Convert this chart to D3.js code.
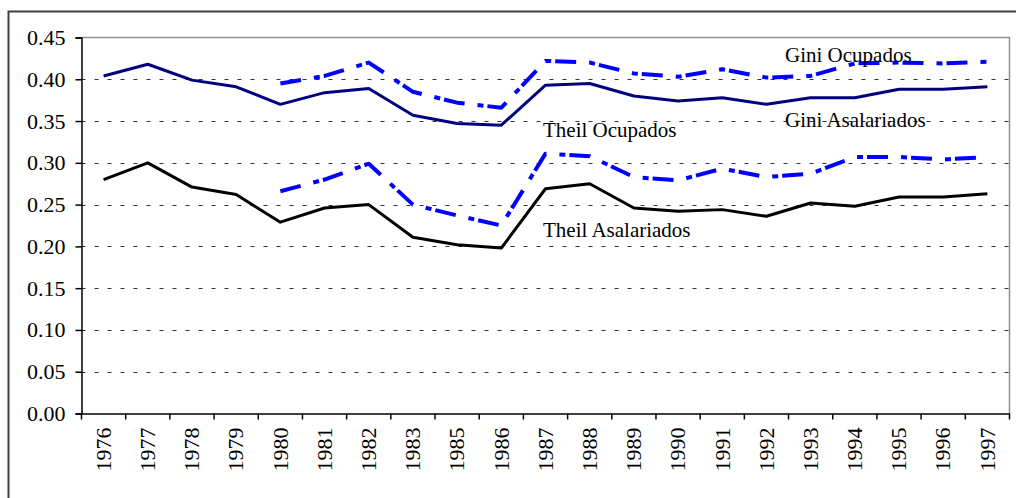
<!DOCTYPE html>
<html>
<head>
<meta charset="utf-8">
<script src="https://cdn.jsdelivr.net/npm/d3@7"></script>
<style>
html,body{margin:0;padding:0;background:#fff;}
svg{display:block;}
text{font-family:"Liberation Serif","Times New Roman",serif;}
</style>
</head>
<body>
<svg id="chart" width="1016" height="498"></svg>
<script>
const years = ["1976","1977","1978","1979","1980","1981","1982","1983","1985","1986","1987","1988","1989","1990","1991","1992","1993","1994","1995","1996","1997"];
const giniAsalariados = [0.404,0.418,0.399,0.391,0.370,0.384,0.389,0.357,0.347,0.345,0.393,0.395,0.380,0.374,0.378,0.370,0.378,0.378,0.388,0.388,0.391];
const theilAsalariados = [0.280,0.300,0.271,0.262,0.229,0.246,0.250,0.211,0.202,0.198,0.269,0.275,0.246,0.242,0.244,0.236,0.252,0.248,0.259,0.259,0.263];
const giniOcupados = [null,null,null,null,0.395,0.404,0.420,0.385,0.372,0.366,0.422,0.420,0.407,0.403,0.412,0.402,0.404,0.419,0.420,0.419,0.421];
const theilOcupados = [null,null,null,null,0.266,0.280,0.299,0.250,0.237,0.225,0.311,0.308,0.283,0.279,0.293,0.283,0.287,0.307,0.307,0.304,0.307];
const yTicks = [0,0.05,0.10,0.15,0.20,0.25,0.30,0.35,0.40,0.45];

const svg = d3.select("#chart");
const L = 81.5, R = 1009.5, T = 37.5, B = 413.5;

// outer frame
svg.append("rect").attr("x",8.5).attr("y",11.5).attr("width",1020).attr("height",500)
  .attr("fill","none").attr("stroke","#404040").attr("stroke-width",2);

const x = d3.scaleBand().domain(years).range([L,R]).padding(0);
const y = d3.scaleLinear().domain([0,0.45]).range([B,T]);

// plot-area border (top & right grey)
svg.append("path").attr("d",`M${L},${T}H${R}V${B}`).attr("fill","none").attr("stroke","#909090").attr("stroke-width",1.5);

// gridlines
svg.append("g").selectAll("line").data(yTicks.filter(d=>d>0 && d<0.45)).join("line")
  .attr("x1",L).attr("x2",R).attr("y1",d=>Math.round(y(d))+0.5).attr("y2",d=>Math.round(y(d))+0.5)
  .attr("stroke","#333").attr("stroke-width",1).attr("stroke-dasharray","4,9");

// y axis
const yAxis = svg.append("g").attr("transform",`translate(${L},0)`)
  .call(d3.axisLeft(y).tickValues(yTicks).tickFormat(d3.format(".2f")).tickSize(6).tickPadding(10));
yAxis.select(".domain").attr("stroke","#000").attr("stroke-width",1.5);
yAxis.selectAll(".tick line").attr("stroke","#000").attr("stroke-width",1.5);
yAxis.selectAll("text").attr("font-size",22).attr("fill","#000").style("font-family","'Liberation Serif',serif");

// x axis
const xAxis = svg.append("g").attr("transform",`translate(0,${B})`)
  .call(d3.axisBottom(x).tickSize(0).tickSizeOuter(0));
xAxis.select(".domain").attr("stroke","#000").attr("stroke-width",1.5);
xAxis.selectAll(".tick text").attr("font-size",22).attr("fill","#000")
  .attr("transform","rotate(-90)").attr("text-anchor","end")
  .attr("x",-14).attr("y",0).attr("dy","0.33em").style("font-family","'Liberation Serif',serif");
// category boundary ticks
const bounds = years.map(d=>x(d)).concat([R]);
svg.append("g").selectAll("line").data(bounds).join("line")
  .attr("x1",d=>d).attr("x2",d=>d).attr("y1",B).attr("y2",B+6)
  .attr("stroke","#000").attr("stroke-width",1.5);

const cx = d => x(d) + x.bandwidth()/2;
function draw(vals, color, width, dash){
  const line = d3.line().defined(d=>d.v!=null).x(d=>cx(d.k)).y(d=>y(d.v));
  const p = svg.append("path").datum(years.map((k,i)=>({k,v:vals[i]})))
    .attr("d",line).attr("fill","none").attr("stroke",color).attr("stroke-width",width)
    .attr("stroke-linejoin","round");
  if(dash) p.attr("stroke-dasharray",dash);
}
draw(giniAsalariados,"#000080",3,null);
draw(theilAsalariados,"#000000",3,null);
draw(giniOcupados,"#0000FF",4,"21,13,6,4");
draw(theilOcupados,"#0000FF",4,"21,13,6,4");

// labels
const labels = [
  {t:"Gini Ocupados", x:785, y:62},
  {t:"Gini Asalariados", x:785, y:127},
  {t:"Theil Ocupados", x:543, y:137},
  {t:"Theil Asalariados", x:543, y:237}
];
svg.append("g").selectAll("text").data(labels).join("text")
  .attr("x",d=>d.x).attr("y",d=>d.y).attr("font-size",21).attr("fill","#000").text(d=>d.t);
</script>
</body>
</html>
